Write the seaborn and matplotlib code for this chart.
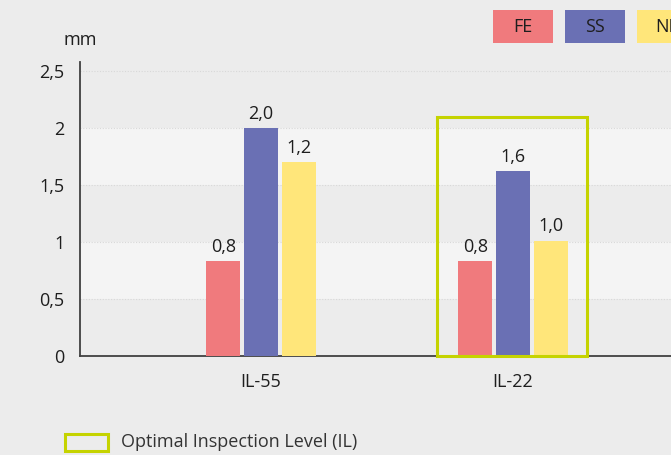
import matplotlib
matplotlib.use("Agg")
import matplotlib.pyplot as plt
from matplotlib.patches import Rectangle
import seaborn as sns
import pandas as pd

# ---- data ----
categories = ["IL-55", "IL-22"]
series = ["FE", "SS", "NF"]
fe_values = [0.83, 0.83]
ss_values = [2.0, 1.62]
nf_values = [1.7, 1.01]
fe_labels = ["0,8", "0,8"]
ss_labels = ["2,0", "1,6"]
nf_labels = ["1,2", "1,0"]
y_ticks = [0, 0.5, 1, 1.5, 2, 2.5]
y_tick_labels = ["0", "0,5", "1", "1,5", "2", "2,5"]
optimal_category = "IL-22"
optimal_height = 2.1

colors = {"FE": "#f07a7d", "SS": "#6a70b4", "NF": "#ffe67a"}
green = "#c5d300"
bg = "#ececec"
band = "#f4f4f4"
txt = "#1e1e1e"
FS = 13

df = pd.DataFrame({
    "category": categories * 3,
    "series": ["FE"] * 2 + ["SS"] * 2 + ["NF"] * 2,
    "value": fe_values + ss_values + nf_values,
})

sns.set_style("white")
plt.rcParams["font.family"] = ["Open Sans", "DejaVu Sans"]

fig = plt.figure(figsize=(6.71, 4.55), dpi=100, facecolor=bg)
W, H = 671, 455
ax_left, ax_right, ax_top, ax_bottom = 80, 671, 62, 356
ax = fig.add_axes([ax_left / W, (H - ax_bottom) / H,
                   (ax_right - ax_left) / W, (ax_bottom - ax_top) / H])
ax.set_facecolor(bg)

sns.barplot(data=df, x="category", y="value", hue="series",
            order=categories, hue_order=series, palette=colors,
            width=0.45, gap=0.1, saturation=1, legend=False, ax=ax,
            linewidth=0, edgecolor="none", zorder=3)

for c, labs in zip(ax.containers, [fe_labels, ss_labels, nf_labels]):
    ax.bar_label(c, labels=labs, padding=4, fontsize=FS, color=txt)

ax.set_ylim(0, 2.58)
ax.set_xlim(-0.718, 1.627)

# background bands and dotted grid
for lo, hi in [(0.5, 1.0), (1.5, 2.0)]:
    ax.axhspan(lo, hi, color=band, zorder=0, lw=0)
for yv in y_ticks[1:]:
    ax.axhline(yv, color="#d8d8d8", lw=0.8, ls=(0, (1, 1.5)), zorder=1)

ax.set_yticks(y_ticks)
ax.set_yticklabels(y_tick_labels)
ax.tick_params(axis="y", length=0, pad=11, labelsize=FS, labelcolor=txt)
ax.tick_params(axis="x", length=0, pad=12, labelsize=FS, labelcolor=txt)
ax.set_xlabel("")
ax.set_ylabel("")
for s in ["top", "right"]:
    ax.spines[s].set_visible(False)
for s in ["left", "bottom"]:
    ax.spines[s].set_color("#404040")
    ax.spines[s].set_linewidth(1.3)

# optimal inspection level box
xi = categories.index(optimal_category)
ax.add_patch(Rectangle((xi - 0.3, 0), 0.595, optimal_height, fill=False,
                       edgecolor=green, lw=2.2, zorder=4, clip_on=False))

# unit label
fig.text(80 / W, 1 - 40 / H, "mm", ha="center", va="center", fontsize=FS, color=txt)

# top legend boxes
for i, s in enumerate(series):
    x0 = 493 + i * 72
    fig.add_artist(Rectangle((x0 / W, 1 - 43 / H), 60 / W, 33 / H,
                             transform=fig.transFigure, facecolor=colors[s],
                             edgecolor="none"))
    fig.text((x0 + 30) / W, 1 - 26.5 / H, s, ha="center", va="center",
             fontsize=FS, color=txt)

# bottom legend
fig.add_artist(Rectangle((65 / W, 1 - 451 / H), 43 / W, 17 / H,
                         transform=fig.transFigure, fill=False,
                         edgecolor=green, lw=2.2))
fig.text(121 / W, 1 - 442 / H, "Optimal Inspection Level (IL)", ha="left",
         va="center", fontsize=FS, color="#333333")

fig.savefig("out.png", dpi=100, facecolor=bg)
